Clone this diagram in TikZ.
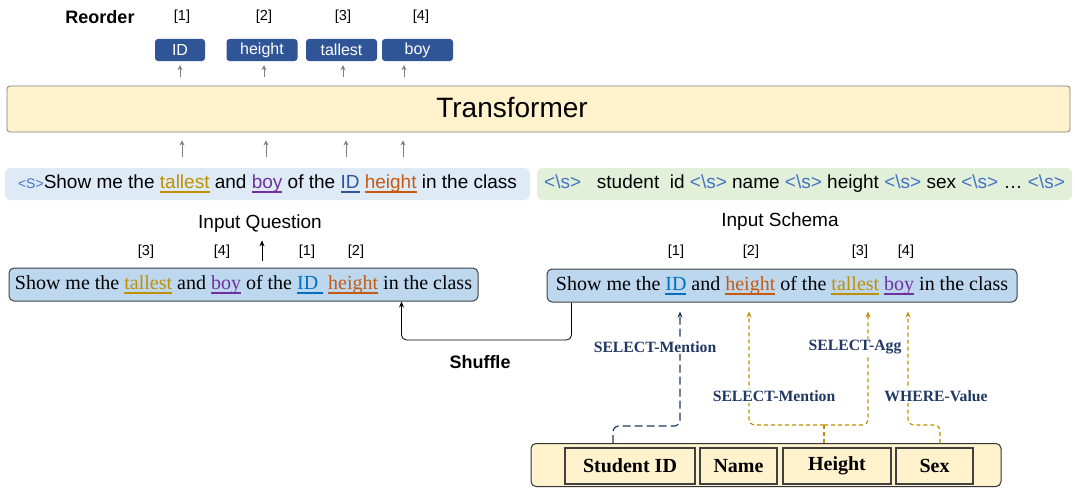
\documentclass[tikz,border=0pt]{standalone}
\usepackage{fontspec}
\setmainfont{Liberation Serif}
\setsansfont{Liberation Sans}
\usetikzlibrary{arrows.meta}
\usetikzlibrary{shapes}
\usetikzlibrary{positioning}
\usetikzlibrary{backgrounds}

\definecolor{gold}{HTML}{BF9000}
\definecolor{purp}{HTML}{7030A0}
\definecolor{idblue}{HTML}{0070C0}
\definecolor{dblue}{HTML}{2F5597}
\definecolor{orng}{HTML}{C55A11}
\definecolor{tok}{HTML}{4472C4}
\definecolor{outblue}{HTML}{2F5597}
\definecolor{tfyellow}{HTML}{FFF2CC}
\definecolor{boxblue}{HTML}{BDD7EE}
\definecolor{seqblue}{HTML}{DEEBF7}
\definecolor{seqgreen}{HTML}{E2F0D9}
\definecolor{navy}{HTML}{203864}

\newcommand{\wrd}[2]{{\color{#1}\setbox0\hbox{#2}\rlap{\vrule height -2.5pt depth 4.5pt width \wd0}\box0}}
\newcommand{\sep}{{\color{tok}<\textbackslash s>}}

\begin{document}
\begin{tikzpicture}[x=1pt,y=-1pt]
        \useasboundingbox (0,0) rectangle (1075,487);
        % reordered output
        \begin{scope}[every node/.style={rectangle,rounded corners=3pt,fill=outblue,text=white,
            font=\sffamily\fontsize{16}{19}\selectfont,minimum height=22pt,inner sep=0pt}]
            \node[minimum width=50pt] (o1) at (180,50) {ID};
            \node[minimum width=71pt] (o2) at (262,50) {height};
            \node[minimum width=71pt] (o3) at (341.5,50) {tallest};
            \node[minimum width=71pt] (o4) at (417.5,50) {boy};
        \end{scope}
        \begin{scope}[every node/.style={font=\sffamily\fontsize{14.5}{17}\selectfont}]
            \node[font=\sffamily\bfseries\fontsize{18}{20}\selectfont] (r0) at (100,17) {Reorder};
            \node (r1) at (182,17) {[1]};
            \node (r2) at (264,17) {[2]};
            \node (r3) at (343,17) {[3]};
            \node (r4) at (421,17) {[4]};
        \end{scope}
        % encoder
        \node[rectangle,rounded corners=3pt,fill=tfyellow,draw=gray,thick,minimum width=1063pt,
            minimum height=46pt] (tf) at (538.5,109) {};
        \node[font=\sffamily\fontsize{28}{30}\selectfont] (tt) at (512,108) {Transformer};
        \begin{scope}[every node/.style={rectangle,rounded corners=5pt,minimum height=32pt,
            font=\sffamily\fontsize{19}{22}\selectfont}]
            \node[fill=seqblue,minimum width=525pt] (qs) at (267.5,184)
                {{\color{tok}\fontsize{14}{16}\selectfont<S>}Show me the \wrd{gold}{tallest} and \wrd{purp}{boy} of the \wrd{dblue}{ID} \wrd{orng}{height} in the class};
            \node[fill=seqgreen,minimum width=535pt] (ss) at (804.5,184)
                {\sep\ \ \ student\ \ id \sep{} name \sep{} height \sep{} sex \sep{} \dots\ \sep};
        \end{scope}
        \begin{scope}[>={Stealth[gray,length=5pt,width=5pt]},
            every edge/.style={draw=gray,thick}]
            \path [->,shorten <=9pt,shorten >=4pt] (tf.north -| 180,0) edge (o1.south -| 180,0);
            \path [->,shorten <=9pt,shorten >=4pt] (tf.north -| 264,0) edge (o2.south -| 264,0);
            \path [->,shorten <=9pt,shorten >=4pt] (tf.north -| 343,0) edge (o3.south -| 343,0);
            \path [->,shorten <=9pt,shorten >=4pt] (tf.north -| 404,0) edge (o4.south -| 404,0);
            \path [->,shorten <=11pt,shorten >=8pt] (qs.north -| 182,0) edge (tf.south -| 182,0);
            \path [->,shorten <=11pt,shorten >=8pt] (qs.north -| 266,0) edge (tf.south -| 266,0);
            \path [->,shorten <=11pt,shorten >=8pt] (qs.north -| 346,0) edge (tf.south -| 346,0);
            \path [->,shorten <=11pt,shorten >=8pt] (qs.north -| 403,0) edge (tf.south -| 403,0);
        \end{scope}
        % question and schema sentences
        \begin{scope}[every node/.style={font=\sffamily\fontsize{19}{22}\selectfont}]
            \node (iq) at (260,224) {Input Question};
            \node (is) at (780,222) {Input Schema};
            \node[font=\sffamily\bfseries\fontsize{18}{20}\selectfont] (sh) at (480,362) {Shuffle};
        \end{scope}
        \begin{scope}[every node/.style={rectangle,rounded corners=5pt,fill=boxblue,draw=black!75,
            line width=1pt,minimum height=33pt,font=\fontsize{20}{23}\selectfont}]
            \node[minimum width=469pt] (qb) at (243.5,284.5)
                {Show me the \wrd{gold}{tallest} and \wrd{purp}{boy} of the \wrd{idblue}{ID\ } \wrd{orng}{height} in the class};
            \node[minimum width=470pt] (sb) at (782,285.5)
                {Show me the \wrd{idblue}{ID} and \wrd{orng}{height} of the \wrd{gold}{tallest} \wrd{purp}{boy} in the class};
        \end{scope}
        \begin{scope}[every node/.style={font=\sffamily\fontsize{14.5}{17}\selectfont}]
            \node (q3) at (146,252) {[3]};
            \node (q4) at (222,252) {[4]};
            \node (q1) at (307,252) {[1]};
            \node (q2) at (356,252) {[2]};
            \node (s1) at (676,252) {[1]};
            \node (s2) at (751,252) {[2]};
            \node (s3) at (860,252) {[3]};
            \node (s4) at (906,252) {[4]};
        \end{scope}
        \begin{scope}[>={Stealth[black,length=6pt,width=5pt]},
            every edge/.style={draw=black,thick}]
            \path [->,shorten <=7pt,shorten >=4pt] (qb.north -| 262,0) edge (iq.south -| 262,0);
            \draw [->,thick,rounded corners=5pt] ([xshift=25pt]sb.south west) -- ([xshift=25pt]sb.south west |- 0,340)
                -- ([xshift=-77pt]qb.south east |- 0,340) -- ([xshift=-77pt]qb.south east);
        \end{scope}
        % schema table
        \node[rectangle,rounded corners=5pt,fill=tfyellow,draw=black!80,line width=1pt,
            minimum width=470pt,minimum height=43pt] (tb) at (766,465) {};
        \begin{scope}[every node/.style={rectangle,draw=black!75,line width=1.2pt,minimum height=36pt,
            font=\bfseries\fontsize{20}{23}\selectfont}]
            \node[minimum width=130pt] (c1) at (630,466) {Student ID};
            \node[minimum width=77pt] (c2) at (738.5,466) {Name};
            \node[minimum width=108pt] (c3) at (837,466) {Height};
            \node[minimum width=77pt] (c4) at (934.5,466) {Sex};
        \end{scope}
        % links from schema to question
        \coordinate (j1) at (824,425);
        \begin{scope}[>={Stealth[length=6pt,width=5pt]},line width=1.2pt]
            \draw [->,navy,dash pattern=on 8pt off 4pt,rounded corners=6pt,shorten >=9pt]
                (tb.north -| 613,0) -- (613,426) -- (680,426) -- (sb.south -| 680,0);
            \draw [gold,dash pattern=on 4pt off 3pt] (tb.north -| 824,0) -- (j1);
            \draw [->,gold,dash pattern=on 4pt off 3pt,rounded corners=6pt,shorten >=9pt]
                (j1) -- (749,425) -- (sb.south -| 749,0);
            \draw [->,gold,dash pattern=on 4pt off 3pt,rounded corners=6pt,shorten >=9pt]
                (j1) -- (868,425) -- (sb.south -| 868,0);
            \draw [->,gold,dash pattern=on 4pt off 3pt,rounded corners=6pt,shorten >=9pt]
                (tb.north -| 940,0) -- (940,425) -- (908,425) -- (sb.south -| 908,0);
        \end{scope}
        \begin{scope}[every node/.style={fill=white,inner sep=1pt,text=navy,
            font=\bfseries\fontsize{15.7}{18}\selectfont}]
            \node (m1) at (655,347) {SELECT-Mention};
            \node (ag) at (855,347) {SELECT-Agg};
            \node (m2) at (774,396) {SELECT-Mention};
            \node (wv) at (936,396) {WHERE-Value};
        \end{scope}
    \end{tikzpicture}
\end{document}
